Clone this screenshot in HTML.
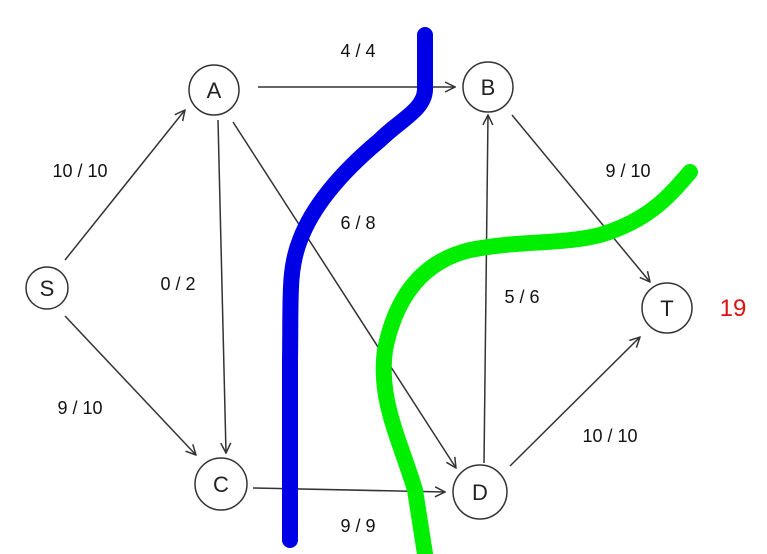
<!DOCTYPE html>
<html><head><style>
html,body{margin:0;padding:0;background:#fff;}
svg{display:block}
text{font-family:"Liberation Sans",sans-serif;}
</style></head><body>
<svg width="767" height="554" viewBox="0 0 767 554" xmlns="http://www.w3.org/2000/svg">
<defs>
<marker id="ar" viewBox="0 0 12 12" refX="11" refY="6" markerWidth="12" markerHeight="12" markerUnits="userSpaceOnUse" orient="auto">
<path d="M1,1 L11,6 L1,11" fill="none" stroke="#333" stroke-width="1.5"/>
</marker>
</defs>
<g stroke="#333" stroke-width="1.5" fill="none">
<circle cx="214" cy="90" r="25"/>
<circle cx="488" cy="87" r="25"/>
<circle cx="47" cy="288" r="21"/>
<circle cx="221" cy="484" r="26"/>
<circle cx="480" cy="492" r="27"/>
<circle cx="667" cy="308" r="25"/>
<line x1="258" y1="87" x2="455" y2="87" marker-end="url(#ar)"/>
<line x1="65" y1="260" x2="185" y2="110" marker-end="url(#ar)"/>
<line x1="65" y1="316" x2="196" y2="455" marker-end="url(#ar)"/>
<line x1="218" y1="120" x2="226" y2="453" marker-end="url(#ar)"/>
<line x1="233" y1="122" x2="456" y2="468" marker-end="url(#ar)"/>
<line x1="253" y1="488" x2="445" y2="492" marker-end="url(#ar)"/>
<line x1="484" y1="463" x2="488" y2="115" marker-end="url(#ar)"/>
<line x1="512" y1="115" x2="650" y2="282" marker-end="url(#ar)"/>
<line x1="510" y1="466" x2="640" y2="337" marker-end="url(#ar)"/>
</g>
<g font-size="22" fill="#222" text-anchor="middle">
<text x="214" y="98">A</text>
<text x="488" y="95">B</text>
<text x="47" y="296">S</text>
<text x="221" y="492">C</text>
<text x="480" y="500">D</text>
<text x="667" y="316">T</text>
</g>
<g font-size="18" fill="#111" text-anchor="middle">
<text x="358" y="57">4 / 4</text>
<text x="80" y="177">10 / 10</text>
<text x="358" y="229">6 / 8</text>
<text x="178" y="290">0 / 2</text>
<text x="80" y="414">9 / 10</text>
<text x="628" y="177">9 / 10</text>
<text x="522" y="303">5 / 6</text>
<text x="610" y="442">10 / 10</text>
<text x="358" y="532">9 / 9</text>
</g>
<text x="733" y="316" font-size="24" fill="#d11" text-anchor="middle">19</text>
<path d="M425,35 L425,90 C424,110 400,120 380,140 C350,165 315,200 300,240 C288,270 291,300 290,360 L290,540" stroke="#0000e6" stroke-width="16" fill="none" stroke-linecap="round"/>
<path d="M690,172 C670,195 650,220 600,235 C560,245 520,240 470,250 C420,262 395,300 385,350 C378,400 400,440 415,490 L425,554" stroke="#00ee00" stroke-width="16" fill="none" stroke-linecap="round"/>
</svg>
</body></html>
